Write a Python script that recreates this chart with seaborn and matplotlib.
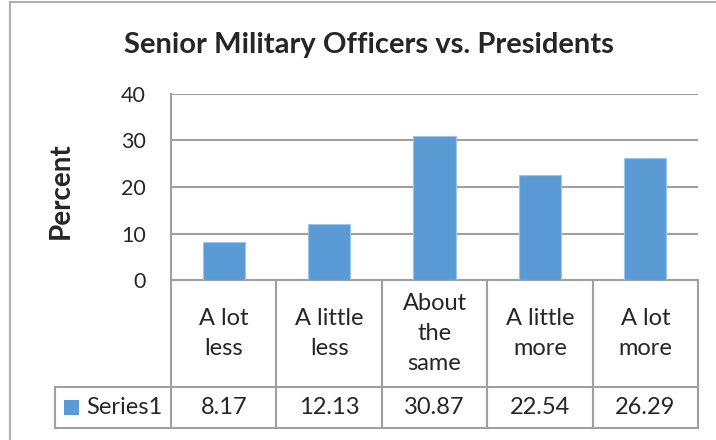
import pandas as pd
import seaborn as sns
import matplotlib.pyplot as plt
from matplotlib.lines import Line2D
from matplotlib.patches import Rectangle
from matplotlib.transforms import blended_transform_factory

categories = ["A lot\nless", "A little\nless", "About\nthe\nsame", "A little\nmore", "A lot\nmore"]
values = [8.17, 12.13, 30.87, 22.54, 26.29]
value_labels = ["8.17", "12.13", "30.87", "22.54", "26.29"]
series_name = "Series1"
yticks = [0, 10, 20, 30, 40]

sns.set_style("white")
plt.rcParams["font.family"] = ["Lato", "DejaVu Sans"]

W, H = 716, 440
fig = plt.figure(figsize=(W / 100, H / 100), dpi=100)
fig.patch.set_facecolor("white")

def fx(px):
    return px / W

def fy(py):
    return 1 - py / H

ax = fig.add_axes([fx(171), fy(280), fx(698) - fx(171), fy(94) - fy(280)])
data = pd.DataFrame({"cat": range(len(values)), "val": values})
sns.barplot(data=data, x="cat", y="val", color="#5B9BD5", saturation=1,
            width=0.4, ax=ax, edgecolor="#9DC3E6", linewidth=0.8, zorder=3)
ax.set_xlim(-0.5, len(values) - 0.5)
ax.set_ylim(0, 40)
ax.set_yticks(yticks)
ax.set_yticklabels([str(t) for t in yticks], fontsize=15.5)
ax.tick_params(axis="y", length=0, pad=18)
ax.set_xticks([])
ax.set_xlabel("")
ax.set_ylabel("")
grid_c = "#A0A0A0"
ax.yaxis.grid(True, color=grid_c, linewidth=1.5, zorder=0)
ax.set_axisbelow(True)
for s in ["top", "right"]:
    ax.spines[s].set_visible(False)
ax.spines["left"].set_color(grid_c)
ax.spines["left"].set_linewidth(1.5)
ax.spines["bottom"].set_color(grid_c)
ax.spines["bottom"].set_linewidth(1.5)

fig.text(fx(369), fy(53), "Senior Military Officers vs. Presidents",
         ha="center", va="baseline", fontsize=21, fontweight="bold")
fig.text(fx(61), fy(191), "Percent", ha="center", va="center",
         rotation=90, fontsize=20, fontweight="bold")

# data table below the plot
tr = blended_transform_factory(ax.transData, fig.transFigure)
y_top, y_mid, y_bot = fy(280), fy(387), fy(428)
n = len(values)
for i in range(n + 1):
    fig.add_artist(Line2D([i - 0.5, i - 0.5], [y_top, y_bot], transform=tr,
                          color=grid_c, linewidth=1.5))
fig.add_artist(Line2D([fx(55), fx(698)], [y_mid, y_mid], color=grid_c, linewidth=1.5))
fig.add_artist(Line2D([fx(55), fx(698)], [y_bot, y_bot], color=grid_c, linewidth=1.5))
fig.add_artist(Line2D([fx(55), fx(55)], [y_mid, y_bot], color=grid_c, linewidth=1.5))

for i, (c, v) in enumerate(zip(categories, value_labels)):
    fig.text(i, (y_top + y_mid) / 2, c, transform=tr, ha="center", va="center",
             fontsize=17, linespacing=1.5)
    fig.text(i, (y_mid + y_bot) / 2, v, transform=tr, ha="center", va="center",
             fontsize=17)

fig.add_artist(Rectangle((fx(64), fy(415)), fx(15), fy(400) - fy(415),
                         facecolor="#5B9BD5", edgecolor="none"))
fig.text(fx(86), (y_mid + y_bot) / 2, series_name, ha="left", va="center", fontsize=17)

# chart border (only top and left edges fall inside the picture)
border_c = "#B0B0B0"
fig.add_artist(Line2D([fx(10), 1], [fy(2), fy(2)], color=border_c, linewidth=1.5))
fig.add_artist(Line2D([fx(10), fx(10)], [fy(2), 0], color=border_c, linewidth=1.5))

fig.savefig("out.png", dpi=100)
